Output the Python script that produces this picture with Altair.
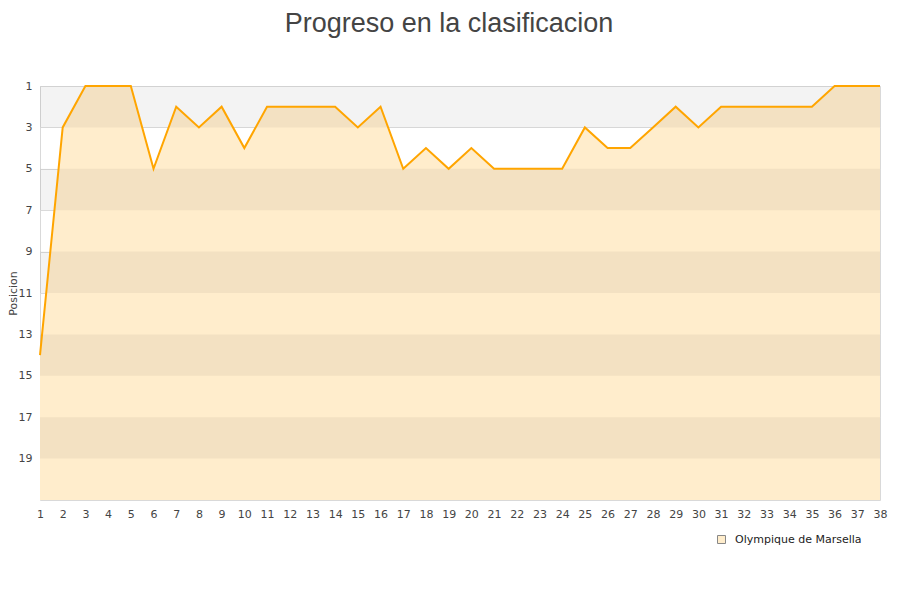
import altair as alt
import pandas as pd

# Posicion por jornada
jornadas = list(range(1, 39))
posiciones = [14, 3, 1, 1, 1, 5, 2, 3, 2, 4,
              2, 2, 2, 2, 3, 2, 5, 4, 5, 4,
              5, 5, 5, 5, 3, 4, 4, 3, 2, 3,
              2, 2, 2, 2, 2, 1, 1, 1]
equipo = "Olympique de Marsella"

# franjas grises del fondo
franja_ini = [1, 5, 9, 13, 17]
franja_fin = [3, 7, 11, 15, 19]
ticks_y = [1, 3, 5, 7, 9, 11, 13, 15, 17, 19]

df = pd.DataFrame({"jornada": jornadas, "posicion": posiciones, "equipo": equipo})
bands = pd.DataFrame({"y1": franja_ini, "y2": franja_fin})

x_scale = alt.Scale(domain=[1, 38], nice=False, zero=False)
y_scale = alt.Scale(domain=[1, 21], reverse=True, nice=False, zero=False)

x_axis = alt.Axis(values=jornadas, title=None, grid=False, domain=False,
                  ticks=False, labelPadding=8, labelFlush=False, labelOverlap=False)
y_axis = alt.Axis(values=ticks_y, title="Posicion", grid=True, gridColor="#dddddd",
                  domain=False, ticks=False, labelPadding=8, titlePadding=0,
                  labelOverlap=False)

area = alt.Chart(df).mark_area(interpolate="linear").encode(
    x=alt.X("jornada:Q", scale=x_scale, axis=x_axis),
    y=alt.Y("posicion:Q", scale=y_scale, axis=y_axis),
    y2=alt.datum(21),
    fill=alt.Fill("equipo:N",
                  scale=alt.Scale(domain=[equipo], range=["#ffedcc"]),
                  legend=alt.Legend(title=None, orient="none", legendX=676, legendY=448,
                                    symbolType="square", symbolSize=64,
                                    symbolStrokeColor="#888888", symbolStrokeWidth=1,
                                    labelOffset=8,
                                    labelFontSize=11, labelFont="DejaVu Sans",
                                    labelColor="#222222")),
)

franjas = alt.Chart(bands).mark_rect(color="black", opacity=0.047).encode(
    y=alt.Y("y1:Q", scale=y_scale, axis=y_axis),
    y2="y2:Q",
)

linea = alt.Chart(df).mark_line(color="#ffa500", strokeWidth=2).encode(
    x=alt.X("jornada:Q", scale=x_scale, axis=x_axis),
    y=alt.Y("posicion:Q", scale=y_scale, axis=y_axis),
)

chart = alt.layer(area, franjas, linea).properties(
    width=840,
    height=414,
    autosize=alt.AutoSizeParams(type="none"),
    padding={"left": 32, "top": 78, "right": 12, "bottom": 90},
    title=alt.TitleParams("Progreso en la clasificacion", fontSize=27,
                          font="Liberation Sans", fontWeight="normal",
                          color="#444444", anchor="middle", offset=42, dx=-11),
).configure_view(
    stroke="#d9d9d9"
).configure_axis(
    labelFont="DejaVu Sans", labelFontSize=11, labelColor="#444444",
    titleFont="DejaVu Sans", titleFontSize=11, titleFontWeight="normal",
    titleColor="#444444",
).configure_axisX(
    labelOverlap=False
)

chart.save("out.html", embed_options={"renderer": "svg", "actions": False})
